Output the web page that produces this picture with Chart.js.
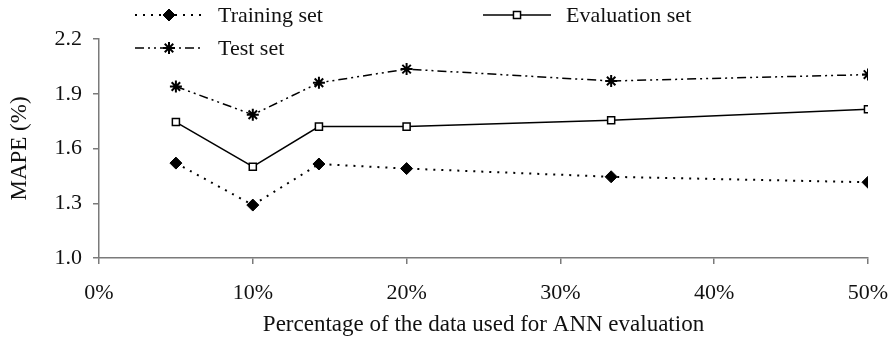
<!DOCTYPE html>
<html lang="en">
<head>
    <meta charset="UTF-8">
    <title>MAPE vs evaluation share</title>
    <script src="https://cdn.jsdelivr.net/npm/chart.js"></script>
    <style>
        html, body { margin: 0; padding: 0; background: #ffffff; }
        #wrap { width: 896px; height: 343px; position: relative; }
    </style>
</head>
<body>
    <div id="wrap"><canvas id="mapeChart"></canvas></div>
    <script>
        // percentage of data used for ANN evaluation
        const evalShare = [5, 10, 14.3, 20, 33.3, 50];
        const trainingSet = [1.52, 1.29, 1.515, 1.49, 1.445, 1.415];
        const evaluationSet = [1.745, 1.50, 1.72, 1.72, 1.755, 1.815];
        const testSet = [1.94, 1.785, 1.96, 2.035, 1.97, 2.005];
        const xTicks = [0, 10, 20, 30, 40, 50];
        const yTicks = [1.0, 1.3, 1.6, 1.9, 2.2];

        const serif = "'Liberation Serif', 'DejaVu Serif', serif";
        const axisGray = '#7a7a7a';

        const pts = vals => evalShare.map((x, i) => ({ x, y: vals[i] }));

        // legend drawn by hand so it can sit in two columns like the original
        const legendSpots = [
            { ds: 0, x: 135, y: 15 },
            { ds: 1, x: 483, y: 15 },
            { ds: 2, x: 135, y: 48 }
        ];
        const handLegend = {
            id: 'handLegend',
            afterDraw(chart) {
                const ctx = chart.ctx;
                legendSpots.forEach(s => {
                    const ds = chart.data.datasets[s.ds];
                    ctx.save();
                    ctx.strokeStyle = '#000';
                    ctx.lineWidth = ds.borderWidth;
                    ctx.setLineDash(ds.borderDash || []);
                    ctx.beginPath();
                    ctx.moveTo(s.x, s.y);
                    ctx.lineTo(s.x + 68, s.y);
                    ctx.stroke();
                    ctx.setLineDash([]);
                    ctx.fillStyle = ds.pointBackgroundColor;
                    ctx.lineWidth = ds.pointBorderWidth;
                    Chart.helpers.drawPoint(ctx, {
                        pointStyle: ds.pointStyle,
                        radius: ds.pointRadius,
                        borderWidth: ds.pointBorderWidth
                    }, s.x + 34, s.y);
                    ctx.fillStyle = '#111';
                    ctx.font = '22px ' + serif;
                    ctx.textBaseline = 'middle';
                    ctx.fillText(ds.label, s.x + 83, s.y + 1);
                    ctx.restore();
                });
            }
        };

        new Chart(document.getElementById('mapeChart'), {
            type: 'line',
            data: {
                datasets: [
                    {
                        label: 'Training set',
                        data: pts(trainingSet),
                        borderColor: '#000',
                        borderWidth: 2,
                        borderDash: [2, 6],
                        pointStyle: 'rectRot',
                        pointRadius: 6,
                        pointBorderWidth: 1,
                        pointBackgroundColor: '#000',
                        pointBorderColor: '#000'
                    },
                    {
                        label: 'Evaluation set',
                        data: pts(evaluationSet),
                        borderColor: '#000',
                        borderWidth: 1.5,
                        pointStyle: 'rect',
                        pointRadius: 5,
                        pointBorderWidth: 1.5,
                        pointBackgroundColor: '#fff',
                        pointBorderColor: '#000'
                    },
                    {
                        label: 'Test set',
                        data: pts(testSet),
                        borderColor: '#000',
                        borderWidth: 1.5,
                        borderDash: [9, 4, 2, 4, 2, 4],
                        pointStyle: 'star',
                        pointRadius: 6,
                        pointBorderWidth: 2,
                        pointBackgroundColor: '#000',
                        pointBorderColor: '#000'
                    }
                ]
            },
            options: {
                responsive: true,
                maintainAspectRatio: false,
                animation: false,
                layout: { padding: { top: 39, right: 28, left: 0, bottom: 0 } },
                plugins: { legend: { display: false }, tooltip: { enabled: false } },
                scales: {
                    x: {
                        type: 'linear',
                        min: 0,
                        max: 50,
                        afterBuildTicks: axis => { axis.ticks = xTicks.map(v => ({ value: v })); },
                        afterFit: axis => {
                            axis.height = 85;
                            axis.paddingLeft = 0;
                            axis.paddingRight = 0;
                        },
                        ticks: {
                            color: '#111',
                            font: { family: serif, size: 22 },
                            padding: 16,
                            callback: v => v + '%'
                        },
                        grid: { drawOnChartArea: false, color: axisGray, tickLength: 6, lineWidth: 1.5 },
                        border: { color: axisGray, width: 1.5 },
                        title: {
                            display: true,
                            text: 'Percentage of the data used for ANN evaluation',
                            color: '#111',
                            font: { family: serif, size: 23 },
                            padding: { top: 9 }
                        }
                    },
                    y: {
                        min: 1.0,
                        max: 2.2,
                        afterBuildTicks: axis => { axis.ticks = yTicks.map(v => ({ value: v })); },
                        afterFit: axis => { axis.width = 99; },
                        ticks: {
                            color: '#111',
                            font: { family: serif, size: 22 },
                            padding: 11,
                            callback: v => v.toFixed(1)
                        },
                        grid: { drawOnChartArea: false, color: axisGray, tickLength: 6, lineWidth: 1.5 },
                        border: { color: axisGray, width: 1.5 },
                        title: {
                            display: true,
                            text: 'MAPE (%)',
                            color: '#111',
                            font: { family: serif, size: 23 },
                            padding: { top: 6, bottom: 6 }
                        }
                    }
                }
            },
            plugins: [handLegend]
        });
    </script>
</body>
</html>
